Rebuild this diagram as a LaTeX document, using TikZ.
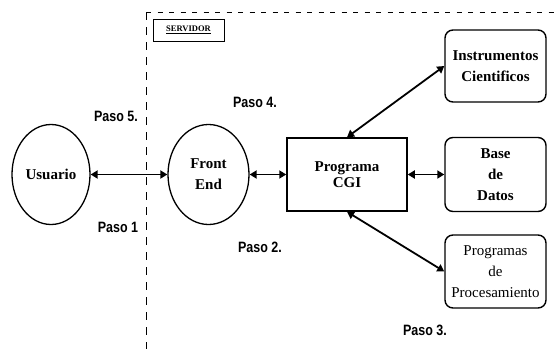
\documentclass[tikz,border=0pt]{standalone}
\usepackage{fontspec}
\usepackage{graphicx}
\setmainfont{Liberation Serif}
\newfontfamily\pasofont{Liberation Sans}
\usetikzlibrary{shapes.geometric,arrows.meta}
\newcommand{\pasotext}[1]{\scalebox{1}[1.2]{#1}}
\begin{document}
\begin{tikzpicture}[x=1pt,y=-1pt,
  ell/.style={ellipse,draw,line width=1.3pt,inner sep=0pt,align=center,
    font=\fontsize{15}{21}\selectfont\bfseries},
  cgibox/.style={rectangle,draw,line width=1.5pt,align=center,
    font=\fontsize{15}{16}\selectfont\bfseries},
  rbox/.style={rectangle,rounded corners=8pt,draw,line width=1.4pt,inner sep=1.5pt,
    minimum width=101pt,align=center,font=\fontsize{15}{21}\selectfont},
  paso/.style={font=\pasofont\fontsize{12.5}{15}\selectfont\bfseries},
  link/.style={line width=1.8pt,{Triangle[length=7pt,width=8pt]}-{Triangle[length=7pt,width=8pt]}},
  sepv/.style={line width=0.9pt,dash pattern=on 8pt off 7pt},
  seph/.style={line width=0.9pt,dash pattern=on 5pt off 6.5pt}]
\useasboundingbox (0,0) rectangle (555,349);
% server boundary
\coordinate (dtop) at (146,12);
\coordinate (dbot) at (146,349);
\coordinate (dright) at (555,12);
\draw[sepv] (dtop) -- (dbot);
\draw[seph] (dtop) -- (dright);
\node[draw,line width=0.8pt,minimum width=71pt,minimum height=22pt,
  font=\fontsize{8.5}{10}\selectfont\bfseries] (srv) at (188.5,30) {\underline{SERVIDOR}};
% nodes
\node[ell,minimum width=78pt,minimum height=100pt] (u) at (51,174.5) {Usuario};
\node[ell,minimum width=81pt,minimum height=100pt] (fe) at (208.5,174.5) {Front\\End};
\node[cgibox,minimum width=120pt,minimum height=73pt] (cgi) at (347,174.5) {Programa\\CGI};
\node[rbox,minimum height=72pt] (inst) at (495.5,66) {\textbf{Instrumentos}\\\textbf{Cientificos}};
\node[rbox,minimum height=74pt] (bd) at (495.5,174.5) {\textbf{Base}\\\textbf{de}\\\textbf{Datos}};
\node[rbox,minimum height=73pt] (proc) at (495.5,271.5) {Programas\\de\\Procesamiento};
% step labels
\node[paso] (p5) at (116,116) {\pasotext{Paso 5.}};
\node[paso] (p4) at (255,102) {\pasotext{Paso 4.}};
\node[paso] (p1) at (118,227) {\pasotext{Paso 1}};
\node[paso] (p2) at (260,247) {\pasotext{Paso 2.}};
\node[paso] (p3) at (425,330) {\pasotext{Paso 3.}};
% connectors
\draw[link] (u.east) -- (fe.west);
\draw[link] (fe.east) -- (cgi.west);
\draw[link] (cgi.east) -- (bd.west);
\draw[link] (cgi.north) -- (inst.west);
\draw[link] (cgi.south) -- (proc.west);
\end{tikzpicture}
\end{document}
